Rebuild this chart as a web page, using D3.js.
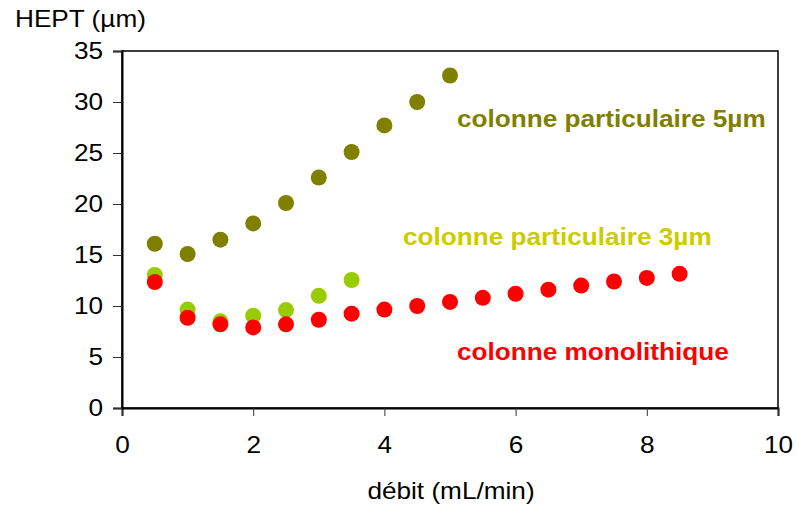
<!DOCTYPE html>
<html><head><meta charset="utf-8">
<script src="https://cdn.jsdelivr.net/npm/d3@7"></script>
<style>body{margin:0;background:#fff}svg{display:block}text{font-family:"Liberation Sans",Arial,sans-serif}</style>
</head><body>
<svg id="c" width="799" height="505"></svg>
<script>
const xTicks = [0, 2, 4, 6, 8, 10];
const yTicks = [0, 5, 10, 15, 20, 25, 30, 35];
const seriesNames = ["colonne particulaire 5µm", "colonne particulaire 3µm", "colonne monolithique"];
const x5 = [0.5, 1, 1.5, 2, 2.5, 3, 3.5, 4, 4.5, 5];
const y5 = [16.1, 15.1, 16.5, 18.1, 20.1, 22.6, 25.1, 27.7, 30.0, 32.6];
const x3 = [0.5, 1, 1.5, 2, 2.5, 3, 3.5];
const y3 = [13.05, 9.65, 8.5, 9.05, 9.6, 11.0, 12.55];
const xMono = [0.5, 1, 1.5, 2, 2.5, 3, 3.5, 4, 4.5, 5, 5.5, 6, 6.5, 7, 7.5, 8, 8.5];
const yMono = [12.35, 8.85, 8.2, 7.9, 8.2, 8.65, 9.25, 9.65, 10.0, 10.4, 10.8, 11.2, 11.6, 12.0, 12.4, 12.75, 13.15];

const svg = d3.select("#c");
const L = 122, R = 778, T = 51, B = 408;
const x = d3.scaleLinear().domain([0, 10]).range([L, R]);
const y = d3.scaleLinear().domain([0, 35]).range([B, T]);
const FS = 24, STRETCH = 1.09;

svg.append("rect").attr("x", L).attr("y", T).attr("width", R - L).attr("height", B - T)
  .attr("fill", "none").attr("stroke", "#000").attr("stroke-width", 1.5);

const xa = svg.append("g").attr("transform", `translate(0,${B})`)
  .call(d3.axisBottom(x).tickValues(xTicks).tickSize(8).tickPadding(20).tickFormat(d3.format("d")));
const ya = svg.append("g").attr("transform", `translate(${L},0)`)
  .call(d3.axisLeft(y).tickValues(yTicks).tickSize(9).tickPadding(10).tickFormat(d3.format("d")));
[xa, ya].forEach(a => {
  a.select(".domain").attr("stroke", "#000").attr("stroke-width", 2);
  a.selectAll(".tick line").attr("stroke", "#333").attr("stroke-width", 1);
  a.selectAll(".tick text").attr("font-size", FS).attr("fill", "#000")
    .attr("font-family", '"Liberation Sans",Arial,sans-serif');
});

const series = [
  {xs: x5, ys: y5, color: "#808000"},
  {xs: x3, ys: y3, color: "#99cc00"},
  {xs: xMono, ys: yMono, color: "#ff0000"}
];
series.forEach(s => {
  svg.append("g").selectAll("circle").data(s.xs.map((v, i) => [v, s.ys[i]])).join("circle")
    .attr("cx", d => x(d[0])).attr("cy", d => y(d[1])).attr("r", 8).attr("fill", s.color);
});

const labels = [
  {t: seriesNames[0], lx: 457, ly: 127, c: "#808000"},
  {t: seriesNames[1], lx: 403, ly: 245, c: "#cccc00"},
  {t: seriesNames[2], lx: 457, ly: 360, c: "#ff0000"}
];
labels.forEach(l => svg.append("text").attr("x", l.lx).attr("y", l.ly).attr("fill", l.c)
  .attr("font-size", FS).attr("font-weight", "bold").text(l.t));

svg.append("text").attr("x", 15).attr("y", 27).attr("font-size", FS).text("HEPT (µm)");
svg.append("text").attr("x", 451).attr("y", 499).attr("text-anchor", "middle").attr("font-size", FS)
  .text("débit (mL/min)");

svg.selectAll("text").each(function() {
  const w = this.getComputedTextLength();
  this.setAttribute("textLength", (w * STRETCH).toFixed(1));
  this.setAttribute("lengthAdjust", "spacingAndGlyphs");
});
</script>
</body></html>
